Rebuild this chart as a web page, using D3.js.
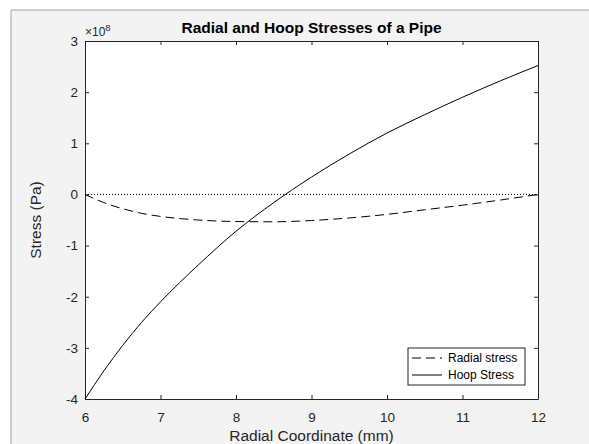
<!DOCTYPE html>
<html>
<head>
<meta charset="utf-8">
<script src="https://cdn.jsdelivr.net/npm/d3@7"></script>
<style>
  body { margin: 0; background: #fff; }
  svg { display: block; font-family: "Liberation Sans", Arial, sans-serif; }
</style>
</head>
<body>
<div class="chart-container"></div>
<script>
// radius in mm, stresses in units of 1e8 Pa
const radius = [6, 6.25, 6.5, 6.75, 7, 7.5, 8, 8.5, 9, 9.5, 10, 10.5, 11, 11.5, 12]
const radialStress = [0, -0.16, -0.28, -0.37, -0.43, -0.50, -0.53, -0.535, -0.51, -0.46, -0.39, -0.30, -0.21, -0.11, 0]
const hoopStress = [-4.0, -3.45, -2.95, -2.5, -2.1, -1.38, -0.72, -0.16, 0.34, 0.79, 1.2, 1.56, 1.9, 2.22, 2.52]
const xTicks = [6, 7, 8, 9, 10, 11, 12]
const yTicks = [-4, -3, -2, -1, 0, 1, 2, 3]
const legendLabels = ["Radial stress", "Hoop Stress"]

const W = 589, H = 444
const margin = {top: 41, right: 51, bottom: 45, left: 85}

const svg = d3.select(".chart-container").append("svg")
    .attr("width", W).attr("height", H)

// figure window background
svg.append("rect").attr("width", W).attr("height", H).attr("fill", "#fff")
svg.append("rect").attr("x", 11).attr("y", 10).attr("width", W - 11).attr("height", H - 10)
    .attr("fill", "#f3f3f3")
svg.append("path").attr("d", `M11,${H}V10H${W}`).attr("fill", "none").attr("stroke", "#a0a0a0")

const x = d3.scaleLinear().domain([6, 12]).range([margin.left, W - margin.right])
const y = d3.scaleLinear().domain([-4, 3]).range([H - margin.bottom, margin.top])

// white axes box
svg.append("rect")
    .attr("x", x(6)).attr("y", y(3))
    .attr("width", x(12) - x(6)).attr("height", y(-4) - y(3))
    .attr("fill", "#fff")

const axisColor = "#262626"
const tickLen = 4
const fmt = d => String(d)

// bottom / left axes with inward ticks, top / right just the box with ticks
const xAxis = g => g
    .attr("transform", `translate(0,${y(-4)})`)
    .call(d3.axisBottom(x).tickValues(xTicks).tickFormat(fmt).tickSize(-tickLen).tickPadding(13).tickSizeOuter(0))
const yAxis = g => g
    .attr("transform", `translate(${x(6)},0)`)
    .call(d3.axisLeft(y).tickValues(yTicks).tickFormat(fmt).tickSize(-tickLen).tickPadding(7).tickSizeOuter(0))
const xTop = g => g
    .attr("transform", `translate(0,${y(3)})`)
    .call(d3.axisTop(x).tickValues(xTicks).tickSize(-tickLen).tickFormat("").tickSizeOuter(0))
const yRight = g => g
    .attr("transform", `translate(${x(12)},0)`)
    .call(d3.axisRight(y).tickValues(yTicks).tickSize(-tickLen).tickFormat("").tickSizeOuter(0))

for (const ax of [xAxis, yAxis, xTop, yRight]) {
    svg.append("g").call(ax)
        .call(g => g.selectAll("line, path").attr("stroke", axisColor).attr("stroke-width", 1))
        .call(g => g.selectAll("text").attr("fill", axisColor).attr("font-size", 13.5)
            .attr("font-family", "Liberation Sans, Arial, sans-serif"))
}

// exponent label
const expo = svg.append("text")
    .attr("x", x(6)).attr("y", y(3) - 5)
    .attr("font-size", 12).attr("fill", axisColor)
expo.append("tspan").text("\u00d710")
expo.append("tspan").attr("dy", -5).attr("font-size", 9.5).text("8")

// title and labels
svg.append("text")
    .attr("x", (x(6) + x(12)) / 2).attr("y", y(3) - 8)
    .attr("text-anchor", "middle").attr("font-weight", "bold")
    .attr("font-size", 15.5).attr("fill", "#000")
    .text("Radial and Hoop Stresses of a Pipe")

svg.append("text")
    .attr("x", (x(6) + x(12)) / 2).attr("y", H - 3)
    .attr("text-anchor", "middle").attr("font-size", 15.5).attr("fill", axisColor)
    .text("Radial Coordinate (mm)")

svg.append("text")
    .attr("transform", `translate(${x(6) - 44},${(y(3) + y(-4)) / 2}) rotate(-90)`)
    .attr("text-anchor", "middle").attr("font-size", 15.5).attr("fill", axisColor)
    .text("Stress (Pa)")

// zero reference line
svg.append("line")
    .attr("x1", x(6)).attr("x2", x(12)).attr("y1", y(0)).attr("y2", y(0))
    .attr("stroke", "#000").attr("stroke-width", 1).attr("stroke-dasharray", "1,2")

const line = vals => d3.line()
    .x((d, i) => x(radius[i]))
    .y(d => y(d))
    .curve(d3.curveMonotoneX)(vals)

svg.append("path")
    .attr("d", line(radialStress))
    .attr("fill", "none").attr("stroke", "#000").attr("stroke-width", 1)
    .attr("stroke-dasharray", "9,5")

svg.append("path")
    .attr("d", line(hoopStress))
    .attr("fill", "none").attr("stroke", "#000").attr("stroke-width", 1)

// legend
const lg = svg.append("g").attr("transform", "translate(408,348)")
lg.append("rect").attr("width", 117).attr("height", 37)
    .attr("fill", "#fff").attr("stroke", axisColor).attr("stroke-width", 1)
legendLabels.forEach((lab, i) => {
    const yy = 10 + i * 17
    lg.append("line").attr("x1", 4).attr("x2", 34).attr("y1", yy).attr("y2", yy)
        .attr("stroke", "#000").attr("stroke-width", 1)
        .attr("stroke-dasharray", i === 0 ? "9,5" : null)
    lg.append("text").attr("x", 40).attr("y", yy + 4)
        .attr("font-size", 12).attr("fill", "#000").text(lab)
})
</script>
</body>
</html>
